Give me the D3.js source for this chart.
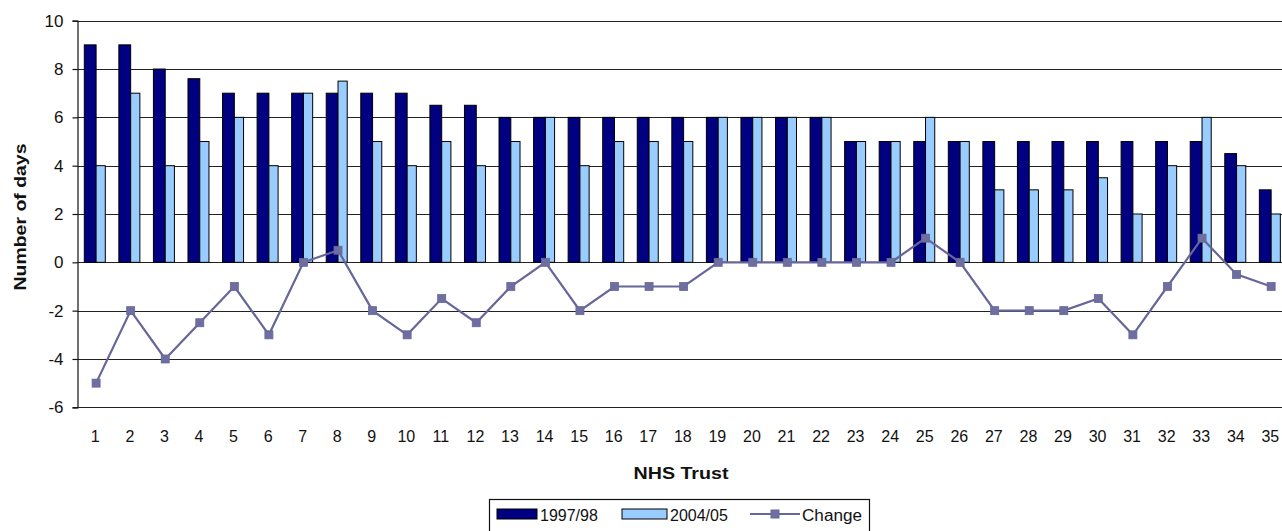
<!DOCTYPE html>
<html>
<head>
<meta charset="utf-8">
<script src="https://cdn.jsdelivr.net/npm/d3@7/dist/d3.min.js"></script>
<style>
  html, body { margin: 0; padding: 0; background: #fff; }
  svg { display: block; font-family: "Liberation Sans", Arial, sans-serif; }
</style>
</head>
<body>
<svg id="chart" width="1282" height="531"></svg>
<script>
const trusts = d3.range(1, 36).map(String);
const y1997 = [9, 9, 8, 7.6, 7, 7, 7, 7, 7, 7, 6.5, 6.5, 6, 6, 6, 6, 6, 6, 6, 6, 6, 6, 5, 5, 5, 5, 5, 5, 5, 5, 5, 5, 5, 4.5, 3];
const y2004 = [4, 7, 4, 5, 6, 4, 7, 7.5, 5, 4, 5, 4, 5, 6, 4, 5, 5, 5, 6, 6, 6, 6, 5, 5, 6, 5, 3, 3, 3, 3.5, 2, 4, 6, 4, 2];
const change = [-5, -2, -4, -2.5, -1, -3, 0, 0.5, -2, -3, -1.5, -2.5, -1, 0, -2, -1, -1, -1, 0, 0, 0, 0, 0, 0, 1, 0, -2, -2, -2, -1.5, -3, -1, 1, -0.5, -1];
const yTicks = [-6, -4, -2, 0, 2, 4, 6, 8, 10];
const seriesNames = ["1997/98", "2004/05", "Change"];

const svg = d3.select("#chart");
const left = 77.3, band = 34.56;
const x = d3.scaleBand().domain(trusts).range([left, left + band * trusts.length]).padding(0);
const y = d3.scaleLinear().domain([-6, 10]).range([407.3, 20.7]);

const darkCol = "#000080", lightCol = "#99CCFF", lineCol = "#666699";

// gridlines
svg.append("g").selectAll("line").data(yTicks).join("line")
  .attr("x1", left).attr("x2", 1282)
  .attr("y1", d => Math.round(y(d)) + 0.5).attr("y2", d => Math.round(y(d)) + 0.5)
  .attr("stroke", "#222").attr("stroke-width", 1.2);

// y axis
const yAxis = d3.axisLeft(y).tickValues(yTicks).tickSize(5).tickPadding(9).tickFormat(d => String(d));
const gy = svg.append("g").attr("transform", `translate(${Math.round(left)+0.5},0)`).call(yAxis);
gy.select(".domain").attr("stroke", "#111").attr("stroke-width", 1.2);
gy.selectAll(".tick line").attr("stroke", "#111").attr("stroke-width", 1.2);
gy.selectAll(".tick text").attr("font-size", 17).attr("fill", "#111")
  .attr("font-family", "'Liberation Sans', Arial, sans-serif");

// bars
const darkOff = 7.0, darkW = 11.8, lightOff = 18.8, lightW = 9.2;
const gBars = svg.append("g");
gBars.selectAll("rect.d").data(trusts).join("rect").attr("class", "d")
  .attr("x", d => x(d) + darkOff).attr("width", darkW)
  .attr("y", (d, i) => y(y1997[i])).attr("height", (d, i) => y(0) - y(y1997[i]))
  .attr("fill", darkCol).attr("stroke", "#000").attr("stroke-width", 1);
gBars.selectAll("rect.l").data(trusts).join("rect").attr("class", "l")
  .attr("x", d => x(d) + lightOff).attr("width", lightW)
  .attr("y", (d, i) => y(y2004[i])).attr("height", (d, i) => y(0) - y(y2004[i]))
  .attr("fill", lightCol).attr("stroke", "#000").attr("stroke-width", 1);

// change line
const ptX = d => x(d) + 18.8;
const line = d3.line().x((d, i) => ptX(trusts[i])).y(d => y(d));
svg.append("path").datum(change).attr("d", line)
  .attr("fill", "none").attr("stroke", lineCol).attr("stroke-width", 2.2);
svg.append("g").selectAll("rect").data(change).join("rect")
  .attr("x", (d, i) => ptX(trusts[i]) - 4).attr("y", d => y(d) - 4)
  .attr("width", 8).attr("height", 8).attr("fill", "#6E6EA0").attr("stroke", lineCol).attr("stroke-width", 0.8);

// x tick labels
svg.append("g").selectAll("text").data(trusts).join("text")
  .attr("x", d => x(d) + 18).attr("y", 442)
  .attr("text-anchor", "middle").attr("font-size", 16).attr("fill", "#111")
  .text(d => d);

// axis titles
svg.append("text").attr("transform", "translate(26,217) rotate(-90)")
  .attr("text-anchor", "middle").attr("font-weight", "bold").attr("font-size", 16)
  .attr("textLength", 147).attr("lengthAdjust", "spacingAndGlyphs").attr("fill", "#111")
  .text("Number of days");
svg.append("text").attr("x", 681).attr("y", 479)
  .attr("text-anchor", "middle").attr("font-weight", "bold").attr("font-size", 17)
  .attr("textLength", 95).attr("lengthAdjust", "spacingAndGlyphs").attr("fill", "#111")
  .text("NHS Trust");

// legend
const lg = svg.append("g");
lg.append("rect").attr("x", 489.5).attr("y", 499.5).attr("width", 380).attr("height", 40)
  .attr("fill", "#fff").attr("stroke", "#111").attr("stroke-width", 1.2);
lg.append("rect").attr("x", 497).attr("y", 509).attr("width", 40).attr("height", 10)
  .attr("fill", darkCol).attr("stroke", "#000");
lg.append("text").attr("x", 540).attr("y", 521).attr("font-size", 16).attr("fill", "#111")
  .text(seriesNames[0]);
lg.append("rect").attr("x", 622).attr("y", 509).attr("width", 45).attr("height", 10)
  .attr("fill", lightCol).attr("stroke", "#000");
lg.append("text").attr("x", 670).attr("y", 521).attr("font-size", 16).attr("fill", "#111")
  .text(seriesNames[1]);
lg.append("line").attr("x1", 750).attr("x2", 800).attr("y1", 514).attr("y2", 514)
  .attr("stroke", lineCol).attr("stroke-width", 2.2);
lg.append("rect").attr("x", 771).attr("y", 510).attr("width", 8).attr("height", 8)
  .attr("fill", "#6E6EA0").attr("stroke", lineCol);
lg.append("text").attr("x", 802).attr("y", 521).attr("font-size", 16).attr("fill", "#111")
  .attr("textLength", 60).attr("lengthAdjust", "spacingAndGlyphs").text(seriesNames[2]);
</script>
</body>
</html>
